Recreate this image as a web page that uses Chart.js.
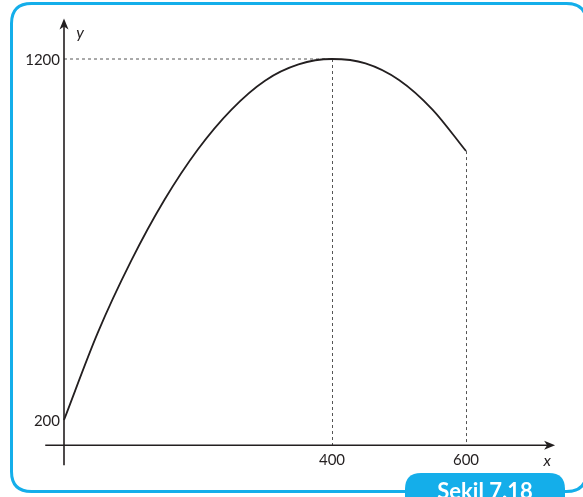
<!DOCTYPE html>
<html>
<head>
<meta charset="utf-8">
<script src="https://cdn.jsdelivr.net/npm/chart.js@4/dist/chart.umd.min.js"></script>
<style>
    html, body { margin: 0; padding: 0; background: #fff; }
    #wrap { width: 583px; height: 497px; position: relative; }
</style>
</head>
<body>
<div id="wrap"><canvas id="chart" width="583" height="497"></canvas></div>
<script>
(function () {
    'use strict';

    // curve
    var xValues = [0, 50, 100, 150, 200, 250, 300, 350, 400, 450, 500, 550, 600];
    var yValues = [200, 440, 640, 810, 950, 1060, 1140, 1185, 1200, 1188, 1142, 1060, 945];

    var yTicks = [200, 1200],
        xTicks = [400, 600],
        // dashed guides drop from these points
        guideX = [400, 600],
        guideY = [1200, 945],
        caption = 'Şekil 7.18';

    // where the axes sit and how far they run (data units)
    var xAxisAt = 130,
        xAxisRange = [-28, 733],
        yAxisRange = [75, 1312];

    var ink = '#231f20',
        blue = '#14aeea',
        font = 'Lato, "Open Sans", sans-serif';

    function arrow (ctx, x, y, dir) {
        ctx.save();
        ctx.translate(x, y);
        ctx.rotate(dir);
        ctx.beginPath();
        ctx.moveTo(0, 0);
        ctx.lineTo(-11, -4.5);
        ctx.lineTo(-8, 0);
        ctx.lineTo(-11, 4.5);
        ctx.closePath();
        ctx.fillStyle = ink;
        ctx.fill();
        ctx.restore();
    }

    function roundRect (ctx, x, y, w, h, r) {
        ctx.beginPath();
        ctx.moveTo(x + r, y);
        ctx.lineTo(x + w - r, y);
        ctx.quadraticCurveTo(x + w, y, x + w, y + r);
        ctx.lineTo(x + w, y + h - r);
        ctx.quadraticCurveTo(x + w, y + h, x + w - r, y + h);
        ctx.lineTo(x + r, y + h);
        ctx.quadraticCurveTo(x, y + h, x, y + h - r);
        ctx.lineTo(x, y + r);
        ctx.quadraticCurveTo(x, y, x + r, y);
        ctx.closePath();
    }

    var figurePlugin = {
        id: 'figure',
        beforeDatasetsDraw: function (chart) {
            var ctx = chart.ctx,
                xs = chart.scales.x,
                ys = chart.scales.y,
                x0 = xs.getPixelForValue(0),
                yAxis = ys.getPixelForValue(xAxisAt);

            ctx.save();

            // frame
            ctx.strokeStyle = blue;
            ctx.lineWidth = 3;
            roundRect(ctx, 11.5, 3.5, 575, 488, 20);
            ctx.stroke();

            // dashed guides
            ctx.strokeStyle = '#555';
            ctx.lineWidth = 1;
            ctx.setLineDash([3, 3]);
            ctx.beginPath();
            ctx.moveTo(x0, ys.getPixelForValue(guideY[0]));
            ctx.lineTo(xs.getPixelForValue(guideX[0]), ys.getPixelForValue(guideY[0]));
            guideX.forEach(function (gx, i) {
                var px = Math.round(xs.getPixelForValue(gx)) + 0.5;
                ctx.moveTo(px, ys.getPixelForValue(guideY[i]));
                ctx.lineTo(px, yAxis);
            });
            ctx.stroke();
            ctx.setLineDash([]);

            // axes
            ctx.strokeStyle = ink;
            ctx.lineWidth = 1.6;
            ctx.beginPath();
            ctx.moveTo(xs.getPixelForValue(xAxisRange[0]), yAxis);
            ctx.lineTo(xs.getPixelForValue(xAxisRange[1]) - 6, yAxis);
            ctx.moveTo(x0, ys.getPixelForValue(yAxisRange[0]));
            ctx.lineTo(x0, ys.getPixelForValue(yAxisRange[1]) + 6);
            ctx.stroke();
            arrow(ctx, xs.getPixelForValue(xAxisRange[1]), yAxis, 0);
            arrow(ctx, x0, ys.getPixelForValue(yAxisRange[1]), -Math.PI / 2);

            // tick labels
            ctx.fillStyle = ink;
            ctx.font = '15px ' + font;
            ctx.textBaseline = 'middle';
            ctx.textAlign = 'right';
            yTicks.forEach(function (v) {
                ctx.fillText(String(v), x0 - 4, ys.getPixelForValue(v) + 1);
            });
            ctx.textAlign = 'center';
            ctx.textBaseline = 'top';
            xTicks.forEach(function (v) {
                ctx.fillText(String(v), xs.getPixelForValue(v), yAxis + 7);
            });

            // axis names
            ctx.font = 'italic 16px ' + font;
            ctx.fillText('x', xs.getPixelForValue(xAxisRange[1]) - 8, yAxis + 8);
            ctx.fillText('y', x0 + 16, ys.getPixelForValue(yAxisRange[1]) + 6);

            ctx.restore();
        },
        afterDraw: function (chart) {
            var ctx = chart.ctx;
            ctx.save();
            ctx.fillStyle = blue;
            roundRect(ctx, 405, 473, 160, 50, 16);
            ctx.fill();
            ctx.fillStyle = '#fff';
            ctx.font = 'bold 22px ' + font;
            ctx.textAlign = 'center';
            ctx.textBaseline = 'alphabetic';
            ctx.fillText(caption, 485, 499);
            ctx.restore();
        }
    };

    new Chart(document.getElementById('chart'), {
        type: 'line',
        data: {
            datasets: [{
                data: xValues.map(function (x, i) {
                    return { x: x, y: yValues[i] };
                }),
                borderColor: ink,
                borderWidth: 1.8,
                pointRadius: 0,
                fill: false,
                cubicInterpolationMode: 'monotone',
                clip: false
            }]
        },
        options: {
            responsive: false,
            animation: false,
            events: [],
            layout: {
                padding: { left: 64, right: 117, top: 59, bottom: 77 }
            },
            plugins: {
                legend: { display: false },
                tooltip: { enabled: false }
            },
            scales: {
                x: { type: 'linear', min: 0, max: 600, display: false },
                y: { type: 'linear', min: 200, max: 1200, display: false }
            }
        },
        plugins: [figurePlugin]
    });
}());
</script>
</body>
</html>
